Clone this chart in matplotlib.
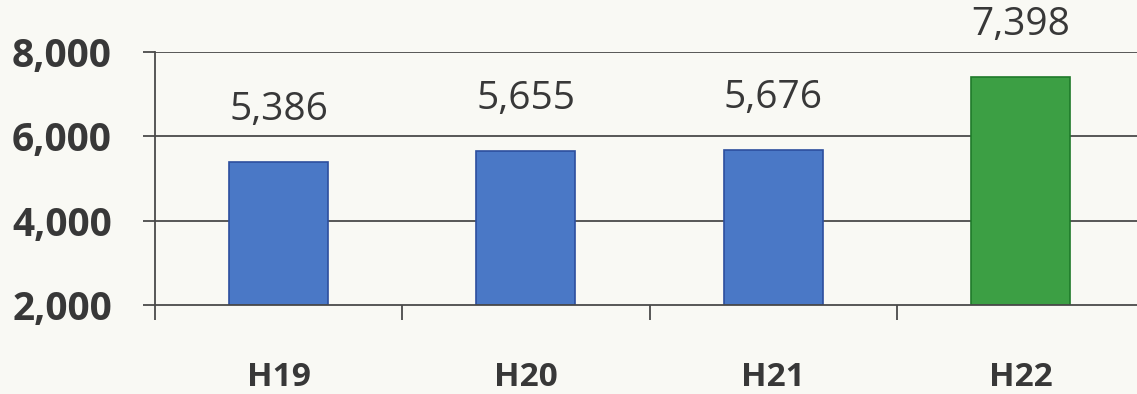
import numpy as np
import matplotlib.pyplot as plt

years = ['H19', 'H20', 'H21', 'H22']
values = [5386, 5655, 5676, 7398]
bar_colors = ['#4a78c6', '#4a78c6', '#4a78c6', '#3c9f44']
edge_colors = ['#2d4f9e', '#2d4f9e', '#2d4f9e', '#1f7a2a']
yticks = [2000, 4000, 6000, 8000]

plt.rcParams['font.family'] = ['Open Sans', 'DejaVu Sans']
txt = '#383838'
bg = '#f9f9f4'

fig = plt.figure(figsize=(11.37, 3.94), dpi=100, facecolor=bg)
ax = fig.add_axes([155/1137, 89/394, 989/1137, 253/394])
ax.set_facecolor(bg)

x = np.arange(len(years))
ax.set_ylim(2000, 8000)
ax.set_xlim(-0.5, 3.5)
for y in yticks[1:]:
    ax.axhline(y, color='#4a4a4a', lw=1.3, zorder=1)
bars = ax.bar(x, np.array(values) - 2000, bottom=2000, width=0.4,
              color=bar_colors, edgecolor=edge_colors, lw=1.2, zorder=2)

for xi, v in zip(x, values):
    ax.annotate(f'{v:,}', (xi, v), xytext=(0, 24), textcoords='offset points',
                ha='center', va='bottom', fontsize=28, color=txt)

for s in ['top', 'right']:
    ax.spines[s].set_visible(False)
ax.spines['left'].set_color('#4a4a4a')
ax.spines['left'].set_linewidth(1.3)
ax.spines['bottom'].set_color('#4a4a4a')
ax.spines['bottom'].set_linewidth(1.3)

ax.set_yticks(yticks)
ax.set_yticklabels([f'{v:,}' for v in yticks], fontsize=28, fontweight='bold', color=txt)
ax.tick_params(axis='y', length=9, width=1.3, color='#4a4a4a', pad=22)

ax.set_xticks(x)
ax.set_xticklabels(years, fontsize=24, fontweight='bold', color=txt)
ax.tick_params(axis='x', which='major', length=0, pad=40)
ax.set_xticks(np.arange(-0.5, 4.0, 1.0), minor=True)
ax.tick_params(axis='x', which='minor', length=11, width=1.3, color='#4a4a4a')

fig.savefig('out.png', dpi=100, facecolor=bg)
